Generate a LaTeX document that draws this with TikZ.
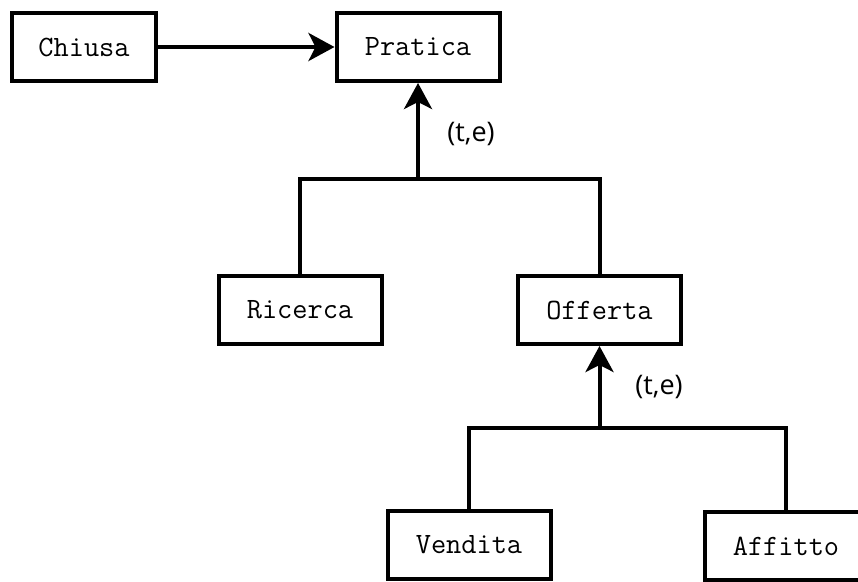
\documentclass[tikz,border=0pt]{standalone}
\usepackage{fontspec}
\newfontfamily\labelfont{Open Sans}
\usetikzlibrary{arrows.meta}
\begin{document}
\begin{tikzpicture}[x=1pt,y=-1pt,
  entity/.style={draw=black, line width=4pt, fill=white,
    minimum width=163pt, minimum height=68pt, inner sep=0pt,
    font=\ttfamily\fontsize{29.5}{32}\selectfont},
  link/.style={draw=black, line width=4pt},
  isa/.style={link, -{Stealth[length=26pt,width=28pt,inset=7pt]}},
  card/.style={font=\labelfont\fontsize{27}{30}\selectfont}]
\useasboundingbox (0,0) rectangle (858,581);
\clip (0,0) rectangle (858,581);
\fill[white] (0,0) rectangle (858,581);

% entities
\node[entity, minimum width=144pt] (chiusa) at (84,47) {Chiusa};
\node[entity] (pratica) at (418,47) {Pratica};
\node[entity] (ricerca) at (300,310) {Ricerca};
\node[entity] (offerta) at (599.5,310) {Offerta};
\node[entity] (vendita) at (469,545) {Vendita};
\node[entity] (affitto) at (786,546) {Affitto};

% junction points of the generalisation trees
\coordinate (j1) at (418,179);
\coordinate (j2) at (599.5,428);

% Chiusa -> Pratica
\draw[isa] (chiusa.east) -- (pratica.west);

% Pratica hierarchy
\draw[link] (ricerca.north) |- (j1) -| (offerta.north);
\draw[isa] (j1) -- (pratica.south);
\node[card] (c1) at (471,134) {(t,e)};

% Offerta hierarchy
\draw[link] (vendita.north) |- (j2) -| (affitto.north);
\draw[isa] (j2) -- (offerta.south);
\node[card] (c2) at (659,387) {(t,e)};
\end{tikzpicture}
\end{document}
